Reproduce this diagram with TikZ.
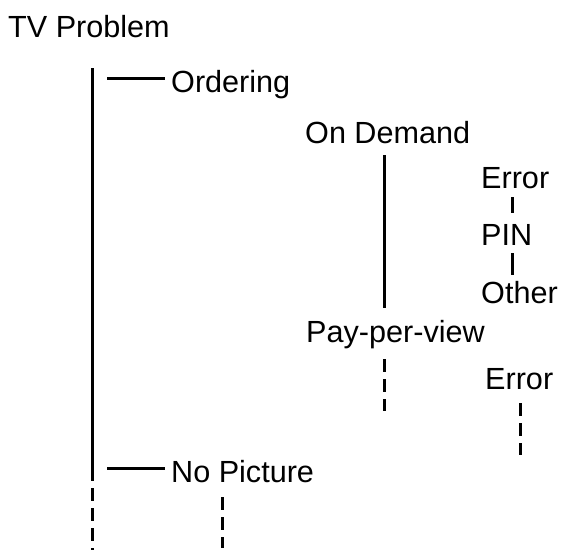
\documentclass[tikz,border=0pt]{standalone}
\usepackage{fontspec}
\setmainfont{Liberation Sans}
\usetikzlibrary{positioning}

\begin{document}
\begin{tikzpicture}[
    x=1pt, y=-1pt,
    lbl/.style={anchor=base west, inner sep=0pt, font=\fontsize{30.6}{36}\selectfont},
    link/.style={line width=3pt},
    dashlink/.style={line width=3pt, dash pattern=on 13pt off 7pt}
]
  \useasboundingbox (0,0) rectangle (563,558);

  \node[lbl] (tv) at (8,37) {TV Problem};
  \node[lbl] (ordering) at (171,92) {Ordering};
  \node[lbl] (ondemand) at (305,143) {On Demand};
  \node[lbl] (err) at (481,188) {Error};
  \node[lbl] (pin) at (481,245) {PIN};
  \node[lbl] (other) at (481,303) {Other};
  \node[lbl] (ppv) at (306,342) {Pay-per-view};
  \node[lbl] (ppverr) at (485,389) {Error};
  \node[lbl] (nopic) at (171,482) {No Picture};

  % trunk under the root
  \coordinate (trunktop) at (92,68);
  \coordinate (trunkend) at (92,473);
  \coordinate (trunkmore) at (92,550);
  \draw[link] (trunktop) -- (trunkend);
  \draw[dashlink] ([yshift=5pt]trunkend) -- (trunkmore);

  % branches
  \draw[link] ([shift={(-64pt,13.5pt)}]ordering.base west) -- ([shift={(-6pt,13.5pt)}]ordering.base west);
  \draw[link] ([shift={(-64pt,13.5pt)}]nopic.base west) -- ([shift={(-6pt,13.5pt)}]nopic.base west);

  % ordering subtree
  \draw[link] ([shift={(79pt,-12pt)}]ondemand.base west) -- ([shift={(78pt,34pt)}]ppv.base west);
  \draw[link] ([shift={(31pt,-9pt)}]err.base west) -- ([shift={(31pt,32pt)}]pin.base west);
  \draw[link] ([shift={(31pt,-8pt)}]pin.base west) -- ([shift={(31pt,28pt)}]other.base west);

  % open ends
  \coordinate (ppvend) at (384,411);
  \coordinate (ppverrend) at (520,455);
  \coordinate (nopicend) at (222,548);
  \draw[dashlink] ([shift={(78pt,-17pt)}]ppv.base west) -- (ppvend);
  \draw[dashlink] ([shift={(35pt,-14pt)}]ppverr.base west) -- (ppverrend);
  \draw[dashlink] ([shift={(51pt,-15pt)}]nopic.base west) -- (nopicend);
\end{tikzpicture}
\end{document}
